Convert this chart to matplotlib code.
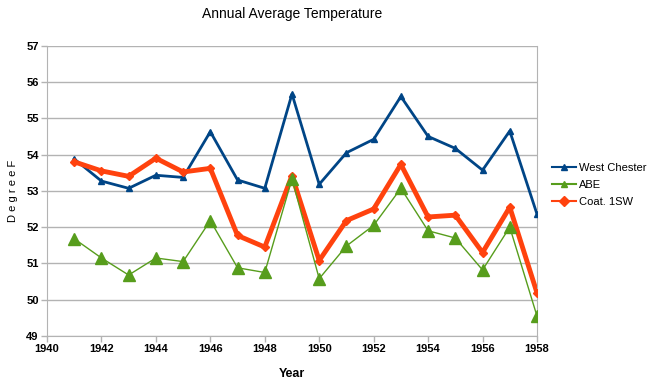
import numpy as np
import matplotlib.pyplot as plt

plt.rcParams['font.family'] = ['Liberation Sans', 'DejaVu Sans']

years = [1941, 1942, 1943, 1944, 1945, 1946, 1947, 1948, 1949, 1950,
         1951, 1952, 1953, 1954, 1955, 1956, 1957, 1958]
west_chester = [53.88, 53.27, 53.07, 53.43, 53.37, 54.63, 53.30, 53.07, 55.67, 53.18,
                54.05, 54.42, 55.60, 54.50, 54.17, 53.57, 54.65, 52.36]
abe = [51.68, 51.15, 50.68, 51.15, 51.05, 52.18, 50.88, 50.75, 53.33, 50.58,
       51.48, 52.05, 53.07, 51.90, 51.70, 50.82, 52.00, 49.55]
coat = [53.80, 53.55, 53.40, 53.90, 53.52, 53.62, 51.77, 51.45, 53.42, 51.08,
        52.18, 52.50, 53.73, 52.28, 52.33, 51.30, 52.55, 50.19]

fig = plt.figure(figsize=(6.49, 3.84), dpi=100)
ax = fig.add_axes([0.0724, 0.125, 0.755, 0.756])

ax.plot(years, west_chester, color='#004586', lw=2, marker='^', ms=4,
        label='West Chester', zorder=3)
ax.plot(years, abe, color='#579d1c', lw=1, marker='^', ms=8,
        label='ABE', zorder=5)
ax.plot(years, coat, color='#ff420e', lw=3.5, marker='D', ms=4.5,
        label='Coat. 1SW', zorder=4)

ax.set_xlim(1940, 1958)
ax.set_ylim(49, 57)
ax.set_xticks(np.arange(1940, 1959, 2))
ax.set_yticks(np.arange(49, 58, 1))
ax.tick_params(labelsize=8, length=4, color='#b3b3b3', width=1, pad=2)
for lbl in ax.get_xticklabels() + ax.get_yticklabels():
    lbl.set_fontweight('semibold')
ax.grid(axis='y', color='#b3b3b3', lw=1)
ax.set_axisbelow(True)
for s in ax.spines.values():
    s.set_color('#b3b3b3')
ax.spines['top'].set_visible(False)

ax.set_title('Annual Average Temperature', fontsize=10, pad=20)
ax.set_xlabel('Year', fontsize=9, fontweight='bold', labelpad=10)
ax.set_ylabel('D e g r e e F', fontsize=8, labelpad=6)

leg = ax.legend(loc='center left', bbox_to_anchor=(1.01, 0.52), frameon=False,
                fontsize=8, handlelength=2.2, handletextpad=0.2, labelspacing=0.6)
for line in leg.get_lines():
    line.set_linewidth(1.5)
    line.set_markersize(5)

plt.savefig('out.png', dpi=100)
